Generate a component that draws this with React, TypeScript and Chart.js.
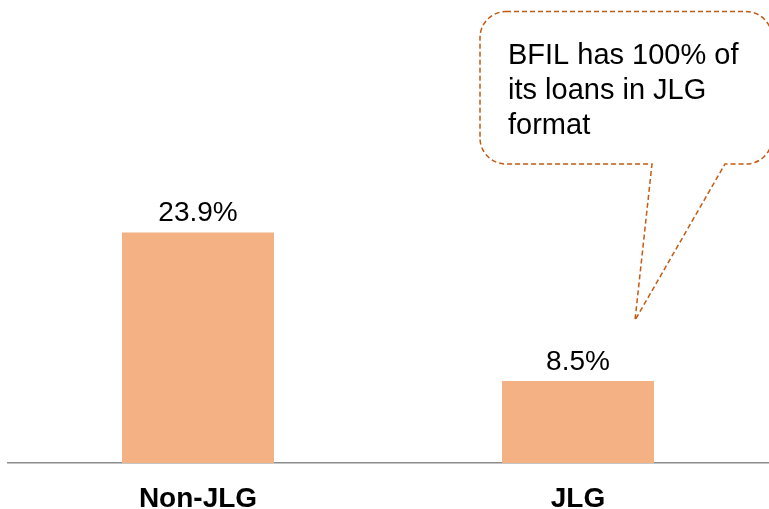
import React, { useEffect, useRef } from "react";
import { Chart, registerables } from "chart.js";

Chart.register(...registerables);

const categories = ["Non-JLG", "JLG"];
const values = [23.9, 8.5];
const valueLabels = ["23.9%", "8.5%"];
const calloutLines = ["BFIL has 100% of", "its loans in JLG", "format"];

const BAR_COLOR = "#F4B183";
const CALLOUT_COLOR = "#C55A11";
const FONT = "Liberation Sans, Arial, sans-serif";

const overlayPlugin = {
  id: "overlay",
  afterDatasetsDraw(chart: any) {
    const ctx = chart.ctx;
    const meta = chart.getDatasetMeta(0);
    ctx.save();
    ctx.fillStyle = "#000";
    ctx.font = `28px ${FONT}`;
    ctx.textAlign = "center";
    ctx.textBaseline = "alphabetic";
    meta.data.forEach((bar: any, i: number) => {
      ctx.fillText(valueLabels[i], bar.x, bar.y - 11);
    });

    // callout anchored to the JLG bar
    const jlg = meta.data[1];
    const yScale = chart.scales.y;
    const cx = jlg.x;
    const tipX = cx + 57;
    const tipY = yScale.getPixelForValue(14.8);
    const left = cx - 98;
    const right = cx + 194;
    const top = yScale.getPixelForValue(46.8);
    const bottom = yScale.getPixelForValue(31);
    const r = 26;
    const baseL = cx + 74;
    const baseR = cx + 147;

    ctx.beginPath();
    ctx.moveTo(left + r, top);
    ctx.lineTo(right - r, top);
    ctx.arcTo(right, top, right, top + r, r);
    ctx.lineTo(right, bottom - r);
    ctx.arcTo(right, bottom, right - r, bottom, r);
    ctx.lineTo(baseR, bottom);
    ctx.lineTo(tipX, tipY);
    ctx.lineTo(baseL, bottom);
    ctx.lineTo(left + r, bottom);
    ctx.arcTo(left, bottom, left, bottom - r, r);
    ctx.lineTo(left, top + r);
    ctx.arcTo(left, top, left + r, top, r);
    ctx.closePath();
    ctx.fillStyle = "#fff";
    ctx.fill();
    ctx.setLineDash([5, 3]);
    ctx.lineWidth = 1.5;
    ctx.strokeStyle = CALLOUT_COLOR;
    ctx.stroke();
    ctx.setLineDash([]);

    ctx.fillStyle = "#000";
    ctx.font = `29px ${FONT}`;
    ctx.textAlign = "left";
    calloutLines.forEach((line, i) => {
      ctx.fillText(line, left + 28, top + 52 + i * 35);
    });
    ctx.restore();
  },
};

export default function App() {
  const ref = useRef<HTMLCanvasElement>(null);
  useEffect(() => {
    const chart = new Chart(ref.current!, {
      type: "bar",
      data: {
        labels: categories,
        datasets: [
          {
            data: values,
            backgroundColor: BAR_COLOR,
            barPercentage: 0.8,
            categoryPercentage: 0.5,
          },
        ],
      },
      options: {
        animation: false,
        responsive: false,
        layout: { padding: { left: 8, right: 1, top: 0, bottom: -26 } },
        plugins: { legend: { display: false }, tooltip: { enabled: false } },
        scales: {
          x: {
            grid: { display: false, drawTicks: false },
            border: { display: true, color: "#8c8c8c", width: 1.5 },
            ticks: {
              color: "#000",
              padding: 22,
              font: { family: FONT, size: 28, weight: "bold", lineHeight: 1 },
            },
          },
          y: {
            display: false,
            min: 0,
            max: 48,
          },
        },
      },
      plugins: [overlayPlugin],
    });
    return () => chart.destroy();
  }, []);
  return (
    <div style={{ position: "fixed", left: 0, top: 0, width: 769, height: 509, background: "#fff" }}>
      <canvas ref={ref} width={769} height={509} />
    </div>
  );
}
